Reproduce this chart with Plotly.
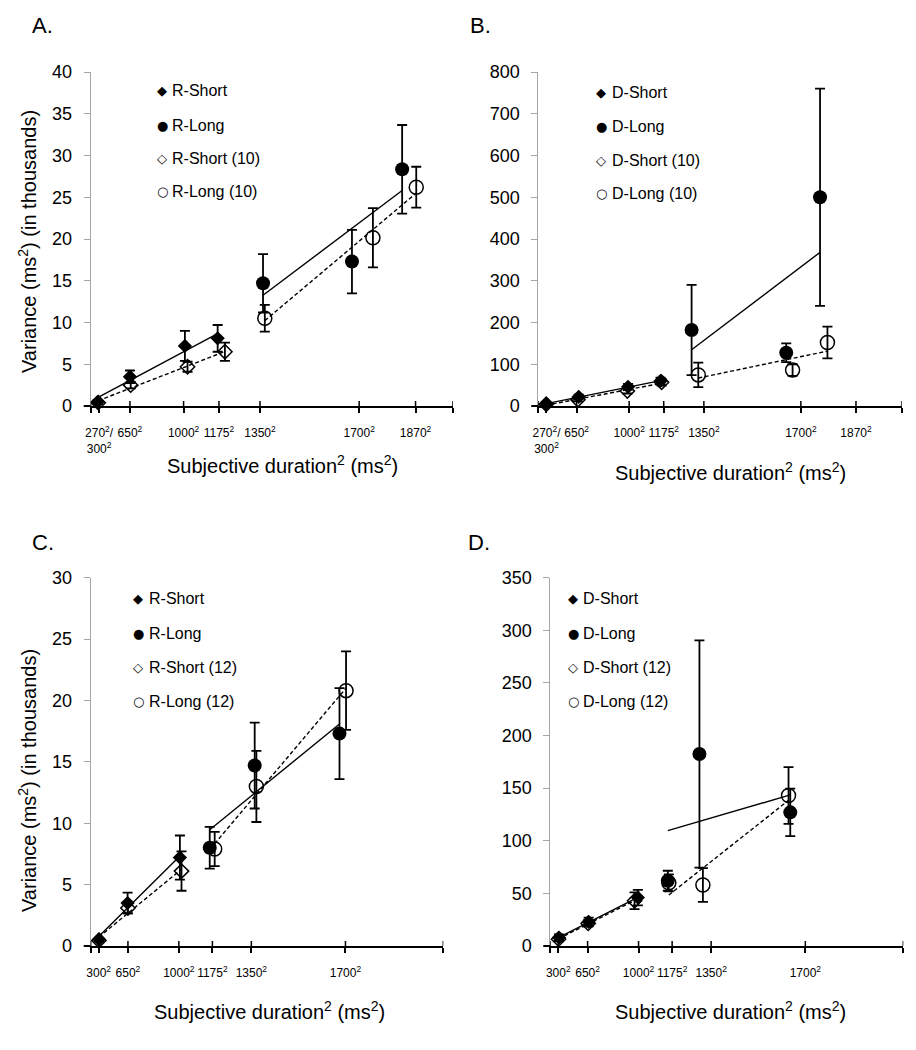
import numpy as np
import plotly.graph_objects as go

PAGE_W, PAGE_H = 916, 1050
BODY = 8  # default page margin around the plot div
W, H = PAGE_W - 2 * BODY, PAGE_H - 2 * BODY
FONT = "Liberation Sans, Arial, sans-serif"
SYMFONT = "DejaVu Sans, Liberation Sans, sans-serif"

# ---------------- data (durations in ms, variance values) ----------------
# Panel A: R groups, (10)
A_short_dur = [274, 650, 1007, 1169]
A_short_var = [0.5, 3.5, 7.2, 8.1]
A_short_err = [0.2, 0.75, 1.8, 1.6]
A_short10_dur = [285, 656, 1021, 1202]
A_short10_var = [0.4, 2.5, 4.7, 6.5]
A_short10_err = [0.15, 0.4, 0.6, 1.1]
A_long_dur = [1362, 1677, 1831]
A_long_var = [14.7, 17.3, 28.35]
A_long_err = [3.5, 3.8, 5.3]
A_long10_dur = [1369, 1743, 1872]
A_long10_var = [10.5, 20.15, 26.2]
A_long10_err = [1.6, 3.55, 2.45]

# Panel B: D groups, (10)
B_short_dur = [297, 667, 994, 1160]
B_short_var = [5, 22, 46, 60]
B_short_err = [3, 5, 7, 8]
B_short10_dur = [295, 660, 990, 1165]
B_short10_var = [4, 15, 36, 57]
B_short10_err = [2, 4, 6, 8]
B_long_dur = [1299, 1652, 1761]
B_long_var = [182, 127.5, 500]
B_long_err = [108, 22.5, 260]
B_long10_dur = [1327, 1673, 1784]
B_long10_var = [74.5, 86, 152]
B_long10_err = [29.5, 14, 38]

# Panel C: R groups, (12)
C_short_dur = [307, 647, 1006]
C_short_var = [0.55, 3.5, 7.2]
C_short_err = [0.1, 0.85, 1.8]
C_short12_dur = [305, 650, 1015]
C_short12_var = [0.45, 3.1, 6.1]
C_short12_err = [0.1, 0.45, 1.6]
C_long_dur = [1162, 1364, 1680]
C_long_var = [8.0, 14.7, 17.3]
C_long_err = [1.7, 3.5, 3.7]
C_long12_dur = [1186, 1371, 1702]
C_long12_var = [7.9, 13.0, 20.8]
C_long12_err = [1.4, 2.9, 3.2]

# Panel D: D groups, (12)
D_short_dur = [313, 659, 996]
D_short_var = [8, 23, 46]
D_short_err = [3, 4, 7.3]
D_short12_dur = [305, 655, 977]
D_short12_var = [6.5, 21.5, 43]
D_short12_err = [2, 3, 8]
D_long_dur = [1154, 1300, 1649]
D_long_var = [62, 182.5, 127]
D_long_err = [9.5, 108, 22.5]
D_long12_dur = [1159, 1315, 1643]
D_long12_var = [60, 58, 143]
D_long12_err = [8, 16, 27]

# tick labels
AB_tick_dur = [300, 650, 1000, 1175, 1350, 1700, 1870]
AB_tick_text = ["270<sup>2</sup>/<br>300<sup>2</sup>", "650<sup>2</sup>", "1000<sup>2</sup>",
                "1175<sup>2</sup>", "1350<sup>2</sup>", "1700<sup>2</sup>", "1870<sup>2</sup>"]
CD_tick_dur = [300, 650, 1000, 1175, 1350, 1700]
CD_tick_text = ["300<sup>2</sup>", "650<sup>2</sup>", "1000<sup>2</sup>",
                "1175<sup>2</sup>", "1350<sup>2</sup>", "1700<sup>2</sup>"]

X_TITLE = "Subjective duration<sup>2</sup> (ms<sup>2</sup>)"
Y_TITLE = "Variance (ms<sup>2</sup>) (in thousands)"

# ---------------- panel definitions (positions in page pixels) ----------------
panels = [
    dict(label="A.", box=(90.7, 453.0, 72.0, 406.0), xmax=3.9e6, ymax=40, dy=5,
         ticks=(AB_tick_dur, AB_tick_text), ytitle=242,
         names=["R-Short", "R-Long", "R-Short (10)", "R-Long (10)"],
         series=[(A_short_dur, A_short_var, A_short_err),
                 (A_long_dur, A_long_var, A_long_err),
                 (A_short10_dur, A_short10_var, A_short10_err),
                 (A_long10_dur, A_long10_var, A_long10_err)],
         lab=(30, 25.5), xt=(282, 464), leg=(162, 170, [91, 125, 158, 191])),
    dict(label="B.", box=(538.3, 901.7, 72.0, 406.0), xmax=4.0e6, ymax=800, dy=100,
         ticks=(AB_tick_dur, AB_tick_text), ytitle=None,
         names=["D-Short", "D-Long", "D-Short (10)", "D-Long (10)"],
         series=[(B_short_dur, B_short_var, B_short_err),
                 (B_long_dur, B_long_var, B_long_err),
                 (B_short10_dur, B_short10_var, B_short10_err),
                 (B_long10_dur, B_long10_var, B_long10_err)],
         lab=(468, 25.5), xt=(730.5, 471), leg=(601.3, 609.7, [92.7, 126.7, 160.7, 193.3])),
    dict(label="C.", box=(90.7, 443.3, 577.7, 946.0), xmax=4.0e6, ymax=30, dy=5,
         ticks=(CD_tick_dur, CD_tick_text), ytitle=781,
         names=["R-Short", "R-Long", "R-Short (12)", "R-Long (12)"],
         series=[(C_short_dur, C_short_var, C_short_err),
                 (C_long_dur, C_long_var, C_long_err),
                 (C_short12_dur, C_short12_var, C_short12_err),
                 (C_long12_dur, C_long12_var, C_long12_err)],
         lab=(30, 542), xt=(269.5, 1010), leg=(138.3, 146.7, [598.3, 633.3, 667.3, 701.7])),
    dict(label="D.", box=(550.3, 903.3, 577.7, 946.0), xmax=4.0e6, ymax=350, dy=50,
         ticks=(CD_tick_dur, CD_tick_text), ytitle=None,
         names=["D-Short", "D-Long", "D-Short (12)", "D-Long (12)"],
         series=[(D_short_dur, D_short_var, D_short_err),
                 (D_long_dur, D_long_var, D_long_err),
                 (D_short12_dur, D_short12_var, D_short12_err),
                 (D_long12_dur, D_long12_var, D_long12_err)],
         lab=(466, 542), xt=(730, 1010), leg=(573, 581.3, [598.3, 633.3, 667.3, 701.7])),
]

styles = [
    dict(symbol="diamond", size=11, dash="solid"),
    dict(symbol="circle", size=14, dash="solid"),
    dict(symbol="diamond-open", size=11, dash="4px,2.5px"),
    dict(symbol="circle-open", size=14, dash="4px,2.5px"),
]
legend_glyphs = ["\u25C6", "\u25CF", "\u25C7", "\u25CB"]

fig = go.Figure()
layout = dict(template="none", width=W, height=H,
              margin=dict(l=0, r=0, t=0, b=0, pad=0, autoexpand=False),
              paper_bgcolor="white", plot_bgcolor="white", showlegend=False,
              font=dict(family=FONT, color="black"))
annotations = []
shapes = []


def px_x(v):
    return (v - BODY) / W


def px_y(v):
    return 1 - (v - BODY) / H


for i, p in enumerate(panels):
    n = "" if i == 0 else str(i + 1)
    xa, ya = "x" + n, "y" + n
    x0, x1, y0, y1 = p["box"]
    plot_w, plot_h = x1 - x0, y1 - y0
    tdur, ttext = p["ticks"]
    tvals = [0] + [d * d for d in tdur] + [p["xmax"]]
    ttxt = [" "] + ttext + [" "]

    layout["xaxis" + n] = dict(
        domain=[px_x(x0), px_x(x1)], anchor=ya, range=[0, p["xmax"]],
        tickmode="array", tickvals=tvals, ticktext=ttxt, automargin=False,
        tickangle=0,
        showline=True, linecolor="black", linewidth=2,
        ticks="outside", ticklen=5, tickwidth=1.5, tickcolor="black",
        ticklabelstandoff=10,
        tickfont=dict(family=FONT, size=12, color="black"),
        showgrid=False, zeroline=False, fixedrange=True)
    layout["yaxis" + n] = dict(
        domain=[px_y(y1), px_y(y0)], anchor=xa, range=[0, p["ymax"]],
        tickmode="linear", dtick=p["dy"], tick0=0, automargin=False,
        tickangle=0,
        showline=True, linecolor="#a6a6a6", linewidth=1,
        ticks="outside", ticklen=6, tickwidth=1, tickcolor="#a6a6a6",
        ticklabelstandoff=8,
        tickfont=dict(family=FONT, size=18, color="black"),
        showgrid=False, zeroline=False, fixedrange=True)

    # inside half of the crossing x ticks
    for tv in tvals:
        shapes.append(dict(type="line", xref=xa, yref=ya + " domain",
                           x0=tv, x1=tv, y0=0, y1=5 / plot_h,
                           line=dict(color="black", width=1.5), layer="above"))
    # small overhang of the x axis line left of the y axis
    shapes.append(dict(type="line", xref=xa + " domain", yref=ya + " domain",
                       x0=-7 / plot_w, x1=0, y0=0, y1=0,
                       line=dict(color="black", width=2), layer="above"))

    # fit lines first
    for (dur, var, err), st, name in zip(p["series"], styles, p["names"]):
        xs = np.array(dur, dtype=float) ** 2
        ys = np.array(var, dtype=float)
        k, b = np.polyfit(xs, ys, 1)
        xl = np.array([xs.min(), xs.max()])
        fig.add_trace(go.Scatter(
            x=xl, y=k * xl + b, mode="lines", xaxis=xa, yaxis=ya,
            line=dict(color="black", width=1.4, dash=st["dash"]),
            name=name + " fit", hoverinfo="skip", cliponaxis=False))
    # points with error bars
    for (dur, var, err), st, name in zip(p["series"], styles, p["names"]):
        xs = np.array(dur, dtype=float) ** 2
        open_ = "open" in st["symbol"]
        fig.add_trace(go.Scatter(
            x=xs, y=var, mode="markers", xaxis=xa, yaxis=ya, name=name,
            marker=dict(symbol=st["symbol"], size=st["size"], color="black",
                        line=dict(color="black", width=1.5 if open_ else 0)),
            error_y=dict(type="data", array=err, visible=True, color="black",
                         thickness=1.8, width=5),
            cliponaxis=False))

    # panel label
    annotations.append(dict(text=p["label"], x=px_x(p["lab"][0]), y=px_y(p["lab"][1]),
                            xref="paper", yref="paper", xanchor="left", yanchor="middle",
                            showarrow=False, font=dict(family=FONT, size=22, color="black")))
    # x title
    annotations.append(dict(text=X_TITLE, x=px_x(p["xt"][0]), y=px_y(p["xt"][1]),
                            xref="paper", yref="paper", xanchor="center", yanchor="middle",
                            showarrow=False, font=dict(family=FONT, size=20, color="black")))
    if p["ytitle"] is not None:
        annotations.append(dict(text=Y_TITLE, x=px_x(27), y=px_y(p["ytitle"]),
                                xref="paper", yref="paper", xanchor="center", yanchor="middle",
                                textangle=-90, showarrow=False,
                                font=dict(family=FONT, size=20, color="black")))
    # legend (glyph + text)
    gx, tx, rows = p["leg"]
    for glyph, name, ry in zip(legend_glyphs, p["names"], rows):
        annotations.append(dict(text=glyph, x=px_x(gx), y=px_y(ry), xref="paper", yref="paper",
                                xanchor="center", yanchor="middle", showarrow=False,
                                font=dict(family=SYMFONT, size=13, color="black")))
        annotations.append(dict(text=name, x=px_x(tx), y=px_y(ry), xref="paper", yref="paper",
                                xanchor="left", yanchor="middle", showarrow=False,
                                font=dict(family=FONT, size=16, color="black")))

layout["annotations"] = annotations
layout["shapes"] = shapes
fig.update_layout(**layout)
fig.write_html("out.html")
